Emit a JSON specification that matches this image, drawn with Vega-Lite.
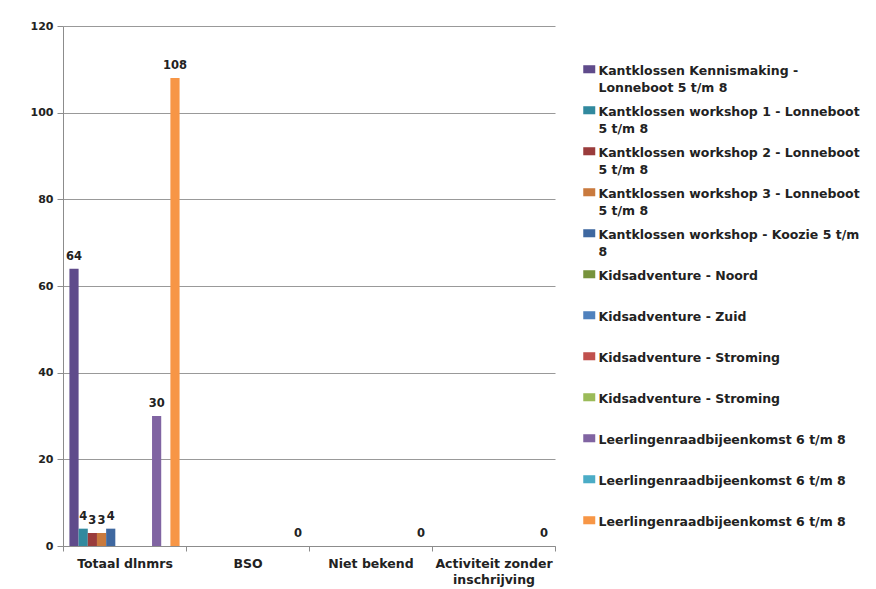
{
  "$schema": "https://vega.github.io/schema/vega-lite/v6.json",
  "width": 492,
  "height": 520,
  "autosize": {"type": "none"},
  "padding": {"left": 63, "top": 26, "right": 321, "bottom": 43},
  "background": "white",
  "config": {
    "font": "DejaVu Sans",
    "view": {"stroke": null},
    "axis": {"labelFont": "DejaVu Sans", "labelFontWeight": "bold", "labelFontSize": 11, "labelColor": "#222222", "domainColor": "#8c8c8c", "tickColor": "#8c8c8c", "gridColor": "#999999"}
  },
  "data": {
    "values": [
      {"cat": "Totaal dlnmrs", "series": "Kantklossen Kennismaking -|Lonneboot 5 t/m 8", "value": 64},
      {"cat": "Totaal dlnmrs", "series": "Kantklossen workshop 1 - Lonneboot|5 t/m 8", "value": 4},
      {"cat": "Totaal dlnmrs", "series": "Kantklossen workshop 2 - Lonneboot|5 t/m 8", "value": 3},
      {"cat": "Totaal dlnmrs", "series": "Kantklossen workshop 3 - Lonneboot|5 t/m 8", "value": 3},
      {"cat": "Totaal dlnmrs", "series": "Kantklossen workshop - Koozie 5 t/m|8", "value": 4},
      {"cat": "Totaal dlnmrs", "series": "Leerlingenraadbijeenkomst 6 t/m 8|", "value": 30},
      {"cat": "Totaal dlnmrs", "series": "Leerlingenraadbijeenkomst 6 t/m 8  |", "value": 108},
      {"cat": "BSO", "series": "Leerlingenraadbijeenkomst 6 t/m 8  |", "value": 0},
      {"cat": "Niet bekend", "series": "Leerlingenraadbijeenkomst 6 t/m 8  |", "value": 0},
      {"cat": "Activiteit zonder inschrijving", "series": "Leerlingenraadbijeenkomst 6 t/m 8  |", "value": 0}
    ]
  },
  "encoding": {
    "x": {
      "field": "cat", "type": "nominal",
      "sort": ["Totaal dlnmrs", "BSO", "Niet bekend", "Activiteit zonder inschrijving"],
      "scale": {"paddingInner": 0, "paddingOuter": 0},
      "axis": {"title": null, "labelAngle": 0, "tickBand": "extent", "tickSize": 5, "labelPadding": 6, "labelFontSize": 12.5, "labelLineHeight": 16,
        "labelExpr": "datum.label == 'Activiteit zonder inschrijving' ? ['Activiteit zonder', 'inschrijving'] : datum.label"}
    },
    "xOffset": {
      "field": "series", "type": "nominal",
      "scale": {"domain": [
        "Kantklossen Kennismaking -|Lonneboot 5 t/m 8",
        "Kantklossen workshop 1 - Lonneboot|5 t/m 8",
        "Kantklossen workshop 2 - Lonneboot|5 t/m 8",
        "Kantklossen workshop 3 - Lonneboot|5 t/m 8",
        "Kantklossen workshop - Koozie 5 t/m|8",
        "Kidsadventure - Noord|",
        "Kidsadventure - Zuid|",
        "Kidsadventure - Stroming|",
        "Kidsadventure - Stroming |",
        "Leerlingenraadbijeenkomst 6 t/m 8|",
        "Leerlingenraadbijeenkomst 6 t/m 8 |",
        "Leerlingenraadbijeenkomst 6 t/m 8  |"
      ], "paddingInner": 0, "paddingOuter": 0.7}
    },
    "y": {
      "field": "value", "type": "quantitative",
      "scale": {"domain": [0, 120]},
      "axis": {"title": null, "values": [0, 20, 40, 60, 80, 100, 120], "tickSize": 6, "labelPadding": 4}
    }
  },
  "layer": [
    {
      "mark": {"type": "bar"},
      "encoding": {
        "color": {
          "field": "series", "type": "nominal",
          "scale": {
            "domain": [
              "Kantklossen Kennismaking -|Lonneboot 5 t/m 8",
              "Kantklossen workshop 1 - Lonneboot|5 t/m 8",
              "Kantklossen workshop 2 - Lonneboot|5 t/m 8",
              "Kantklossen workshop 3 - Lonneboot|5 t/m 8",
              "Kantklossen workshop - Koozie 5 t/m|8",
              "Kidsadventure - Noord|",
              "Kidsadventure - Zuid|",
              "Kidsadventure - Stroming|",
              "Kidsadventure - Stroming |",
              "Leerlingenraadbijeenkomst 6 t/m 8|",
              "Leerlingenraadbijeenkomst 6 t/m 8 |",
              "Leerlingenraadbijeenkomst 6 t/m 8  |"
            ],
            "range": ["#5F4B8B", "#31899E", "#9A3C3C", "#C97A3E", "#3F68A0", "#77933C", "#4F81BD", "#C0504D", "#9BBB59", "#8064A2", "#4BACC6", "#F79646"]
          },
          "legend": {
            "title": null,
            "orient": "none",
            "legendX": 520,
            "legendY": 37,
            "labelExpr": "split(datum.label, '|')",
            "labelFont": "DejaVu Sans",
            "labelFontWeight": "bold",
            "labelFontSize": 12.5,
            "labelColor": "#222222",
            "labelLimit": 340,
            "labelBaseline": "top",
            "labelOffset": 3,
            "symbolType": "M-1,-0.67H1V0.67H-1Z",
            "symbolSize": 144,
            "symbolStrokeWidth": 0,
            "rowPadding": 9,
            "padding": 0,
            "encode": {"labels": {"update": {"lineHeight": {"value": 17}, "dy": {"value": -4}}}}
          }
        }
      }
    },
    {
      "mark": {"type": "text", "dy": -12, "font": "DejaVu Sans", "fontWeight": "bold", "fontSize": 11.5, "color": "#222222"},
      "encoding": {"text": {"field": "value", "type": "quantitative"}}
    }
  ]
}
